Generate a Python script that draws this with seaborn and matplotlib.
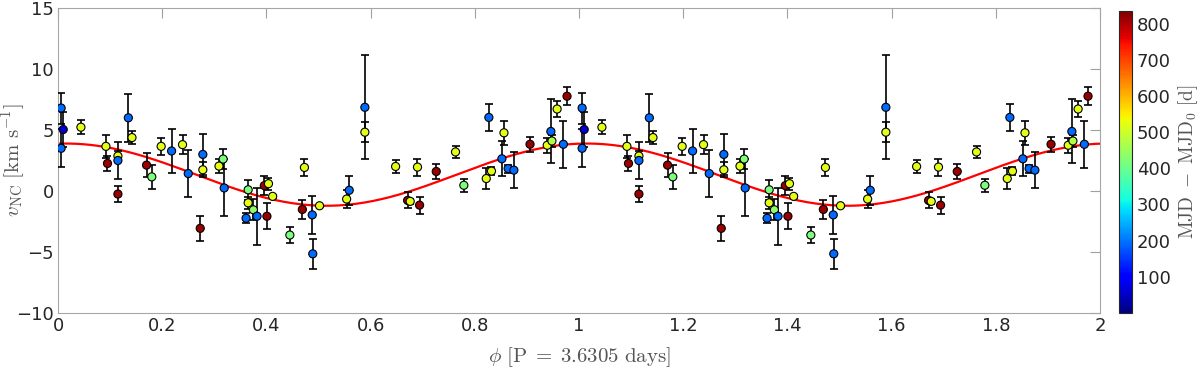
import numpy as np
import pandas as pd
import matplotlib
matplotlib.use("Agg")
import matplotlib.pyplot as plt
import seaborn as sns
from matplotlib.colors import Normalize
from matplotlib.ticker import FormatStrFormatter

# ----------------------------------------------
# Data: phase-folded radial velocities (one cycle, repeated below)
# ----------------------------------------------
phase = [0.006, 0.010, 0.006, 0.044, 0.092, 0.095, 0.115, 0.115, 0.115, 0.135,
         0.142, 0.170, 0.180, 0.198, 0.218, 0.239, 0.250, 0.273, 0.278, 0.278,
         0.309, 0.317, 0.319, 0.365, 0.365, 0.361, 0.375, 0.382, 0.396, 0.404,
         0.401, 0.412, 0.445, 0.473, 0.469, 0.488, 0.489, 0.502, 0.554, 0.559,
         0.589, 0.589, 0.648, 0.671, 0.676, 0.690, 0.694, 0.726, 0.763, 0.779,
         0.822, 0.832, 0.827, 0.856, 0.852, 0.864, 0.875, 0.906, 0.939, 0.946,
         0.948, 0.958, 0.970, 0.977]
vel = [6.80, 5.04, 3.50, 5.23, 3.66, 2.26, 2.87, 2.50, -0.25, 6.00,
       4.38, 2.12, 1.16, 3.66, 3.28, 3.80, 1.43, -3.06, 3.00, 1.74,
       2.04, 2.62, 0.25, 0.10, -0.97, -2.23, -1.54, -2.07, 0.44, 0.60,
       -2.07, -0.44, -3.61, 1.93, -1.51, -1.96, -5.15, -1.21, -0.66, 0.06,
       6.86, 4.82, 2.01, -0.77, -0.85, 1.96, -1.16, 1.60, 3.20, 0.47,
       1.02, 1.63, 6.03, 4.77, 2.64, 1.84, 1.71, 3.83, 3.75, 4.88,
       4.10, 6.72, 3.83, 7.77]
err = [1.27, 1.46, 1.57, 0.55, 0.93, 0.60, 0.40, 1.54, 0.65, 1.98,
       0.55, 1.00, 0.96, 0.69, 1.82, 0.77, 1.91, 1.03, 1.70, 0.60,
       0.60, 0.80, 2.34, 0.80, 0.50, 0.40, 0.85, 2.34, 0.75, 0.50,
       1.07, 0.10, 0.66, 0.68, 0.80, 1.54, 1.24, 0.10, 0.76, 1.20,
       4.27, 0.80, 0.50, 0.65, 0.20, 0.70, 0.69, 0.63, 0.48, 0.55,
       0.83, 0.30, 1.14, 0.98, 1.45, 0.33, 1.47, 0.60, 0.62, 2.62,
       0.50, 0.69, 1.93, 0.73]
mjd = [190, 60, 190, 525, 525, 815, 525, 190, 815, 190,
       525, 815, 420, 525, 190, 525, 190, 815, 190, 525,
       525, 420, 190, 420, 525, 190, 440, 190, 815, 525,
       815, 525, 420, 525, 815, 190, 190, 525, 525, 190,
       190, 525, 525, 815, 525, 525, 815, 815, 525, 420,
       525, 525, 190, 525, 190, 190, 190, 815, 525, 190,
       470, 525, 190, 815]

# orbital solution for the red curve
gamma, K, phi0 = 1.34, 2.55, 0.015
period = 3.6305
mjd_range = (0, 835)

df = pd.DataFrame({"phase": phase, "vel": vel, "err": err, "mjd": mjd})
df2 = pd.concat([df, df.assign(phase=df["phase"] + 1)], ignore_index=True)

# ----------------------------------------------
# Plot
# ----------------------------------------------
sns.set_style("white")
plt.rcParams["font.family"] = ["DejaVu Sans"]
plt.rcParams["mathtext.fontset"] = "cm"
jet = plt.get_cmap("jet")
label_col = "#555555"

fig = plt.figure(figsize=(12, 3.72), dpi=100)
ax = fig.add_axes([58 / 1200, 59 / 372, 1042 / 1200, 305 / 372])
cax = fig.add_axes([1119 / 1200, 59 / 372, 13 / 1200, 302 / 372])

ph = np.linspace(0, 2, 500)
ax.plot(ph, gamma + K * np.cos(2 * np.pi * (ph - phi0)), color="red", lw=1.6, zorder=2)

ax.errorbar(df2["phase"], df2["vel"], yerr=df2["err"], fmt="none", ecolor="black",
            elinewidth=1.2, capsize=3, capthick=1.2, zorder=3)
sns.scatterplot(data=df2, x="phase", y="vel", hue="mjd", palette=jet, hue_norm=mjd_range,
                s=34, edgecolor="black", linewidth=0.8, legend=False, ax=ax, zorder=4)

ax.set_xlim(0, 2)
ax.set_ylim(-10, 15)
ax.set_xticks(np.arange(0, 2.01, 0.2))
ax.set_yticks(np.arange(-10, 16, 5))
ax.xaxis.set_major_formatter(FormatStrFormatter("%g"))
ax.tick_params(direction="in", length=7, width=0.8, color="#a0a0a0", labelsize=13,
               labelcolor="#262626", top=True, right=True, pad=3)
for s in ax.spines.values():
    s.set_color("#a6a6a6")
    s.set_linewidth(0.8)

ax.set_xlabel(r"$\phi\ [\mathrm{P}\;=\;3.6305\ \mathrm{days}]$", fontsize=15, color=label_col)
ax.xaxis.set_label_coords(0.5, -0.105)
ax.set_ylabel(r"$v_{\rm NC}\ [\mathrm{km\ s^{-1}}]$", fontsize=15, color=label_col)
ax.yaxis.set_label_coords(-0.0285, 0.5)

sm = plt.cm.ScalarMappable(norm=Normalize(*mjd_range), cmap=jet)
cb = fig.colorbar(sm, cax=cax)
cb.set_ticks(range(100, 900, 100))
cb.ax.tick_params(labelsize=13, labelcolor="#262626", length=3, direction="in")
cb.outline.set_linewidth(0.8)
cb.set_label(r"$\mathrm{MJD\ -\ MJD_0\ [d]}$", fontsize=14, color=label_col, labelpad=4)

fig.savefig("out.png", dpi=100)
